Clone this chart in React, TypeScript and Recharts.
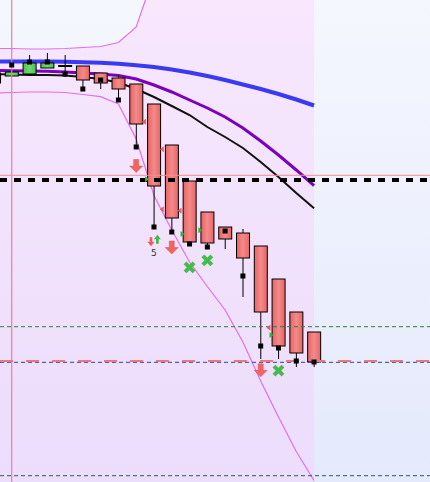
import React from "react";
import {
  ComposedChart,
  Bar,
  Line,
  Area,
  Scatter,
  XAxis,
  YAxis,
  ReferenceLine,
} from "recharts";

const idx = [-1, 0, 1, 2, 3, 4, 5, 6, 7, 8, 9, 10, 11, 12, 13, 14, 15, 16, 17];
const opens = [140.9, 140.6, 140.8, 141.4, 141.6, 141.6, 140.9, 140.4, 139.8, 137.8, 133.7, 130.1, 127.0, 125.5, 124.9, 123.6, 120.3, 117.0, 115.0];
const closes = [139.9, 141.0, 141.9, 141.9, 141.6, 140.2, 139.9, 139.3, 135.8, 129.6, 126.4, 124.0, 123.9, 124.3, 122.4, 117.0, 113.6, 112.9, 112.0];
const highs = [140.9, 141.0, 142.7, 142.9, 142.7, 141.6, 140.9, 140.7, 139.8, 137.8, 133.7, 130.1, 127.0, 125.5, 125.3, 123.6, 120.3, 117.0, 115.0];
const lows = [139.9, 140.6, 140.8, 141.4, 140.5, 139.3, 139.3, 138.2, 133.5, 125.5, 125.0, 123.8, 123.6, 123.3, 118.5, 112.3, 112.3, 111.5, 111.5];
const stops = [null, 141.7, 142.0, 142.0, 140.8, 139.3, 140.2, 138.2, 133.5, 125.5, 125.0, 123.8, 123.5, 125.1, 120.6, 113.6, 113.4, 112.1, 112.0];
const maBlue = [142.05, 142.05, 142.05, 142.05, 142.02, 141.98, 141.92, 141.82, 141.67, 141.5, 141.25, 140.95, 140.6, 140.2, 139.75, 139.3, 138.8, 138.25, 137.65];
const maPurple = [141.15, 141.13, 141.1, 141.07, 141.0, 140.9, 140.8, 140.65, 140.3, 139.7, 139.0, 138.2, 137.4, 136.5, 135.4, 134.1, 132.7, 131.2, 129.63];
const maBlack = [140.8, 140.75, 140.7, 140.7, 140.65, 140.5, 140.3, 139.95, 139.3, 138.5, 137.6, 136.7, 135.5, 134.5, 133.4, 132.0, 130.5, 128.9, 127.37];
const bbUpper = [143.35, 143.35, 143.3, 143.3, 143.35, 143.45, 143.55, 143.95, 145.5, 150.7, 155.7, 160.2, 164.2, 167.7, 171.2, 174.7, 178.2, 181.7, 185.2];
const bbLower = [138.9, 138.95, 139.0, 139.0, 138.95, 138.75, 138.53, 137.8, 134.3, 128.65, 125.2, 122.0, 119.55, 117.2, 114.0, 110.1, 106.5, 103.05, 100.15];

const bigDownArrows = [
  { i: 7, p: 131.6 },
  { i: 9, p: 123.45 },
  { i: 14, p: 111.17 },
];
const greenCrosses = [
  { i: 10, p: 121.47 },
  { i: 11, p: 122.17 },
  { i: 15, p: 111.13 },
];
const countSignals = [{ i: 8, p: 124.15, label: "5" }];
const redTicks = [
  { i: 8, p: 136.03 },
  { i: 9, p: 133.27 },
  { i: 9, p: 127.27 },
  { i: 10, p: 127.13 },
  { i: 15, p: 115.43 },
];
const greenTicks = [
  { i: 8, p: 130.27 },
  { i: 10, p: 124.8 },
  { i: 11, p: 125.17 },
  { i: 15, p: 114.7 },
];

const levelRed = 130.67;
const levelBlackDash = 130.2;
const levelGreen = 115.53;
const levelSalmon = 112.1;
const levelBlue = 111.97;
const levelBottom = 100.63;
const markerIndex = 0;

const rows = idx.map((i, k) => ({
  i,
  open: opens[k],
  close: closes[k],
  high: highs[k],
  low: lows[k],
  range: [lows[k], highs[k]],
  stop: stops[k],
  blue: maBlue[k],
  purple: maPurple[k],
  black: maBlack[k],
  upper: bbUpper[k],
  lower: bbLower[k],
}));

const Candle = (props: any) => {
  const { x, y, width, height, payload } = props;
  if (!payload) return null;
  const { open, close, high, low } = payload;
  const top0 = Math.min(y, y + height);
  const h = Math.abs(height);
  const span = high - low;
  const k = span > 0 ? h / span : 0;
  const yOf = (v: number) => top0 + (high - v) * k;
  const cx = x + width / 2;
  const bTop = yOf(Math.max(open, close));
  const bBot = yOf(Math.min(open, close));
  const up = close > open;
  const doji = Math.abs(open - close) < 0.05;
  return (
    <g>
      <line x1={cx} x2={cx} y1={yOf(high)} y2={yOf(low)} stroke="#000" strokeWidth={1} />
      {doji ? (
        <line x1={x} x2={x + width} y1={bTop} y2={bTop} stroke="#000" strokeWidth={2} />
      ) : (
        <rect
          x={x + 0.5}
          y={bTop}
          width={width - 1}
          height={Math.max(bBot - bTop, 1)}
          fill={up ? "url(#gGreen)" : "url(#gRed)"}
          stroke="#000"
          strokeWidth={1}
        />
      )}
    </g>
  );
};

const StopSquare = (props: any) => {
  const { cx, cy } = props;
  if (cx == null || cy == null || isNaN(cy)) return null;
  return <rect x={cx - 2.5} y={cy - 2.5} width={5} height={5} fill="#000" />;
};

const BigArrow = (props: any) => {
  const { cx, cy } = props;
  const pts = [
    [-2.5, -6.5],
    [2.5, -6.5],
    [2.5, 0],
    [6.5, 0],
    [0, 6.5],
    [-6.5, 0],
    [-2.5, 0],
  ]
    .map(([a, b]) => `${cx + a},${cy + b}`)
    .join(" ");
  return <polygon points={pts} fill="#f06464" stroke="#e05050" strokeWidth={0.5} />;
};

const GreenCross = (props: any) => {
  const { cx, cy } = props;
  const r = 4.5;
  return (
    <g stroke="#44bb4c" strokeWidth={4}>
      <line x1={cx - r} y1={cy - r} x2={cx + r} y2={cy + r} />
      <line x1={cx - r} y1={cy + r} x2={cx + r} y2={cy - r} />
    </g>
  );
};

const CountSignal = (props: any) => {
  const { cx, cy, payload } = props;
  const rx = cx - 3;
  const ry = cy + 1.2;
  const gx = cx + 3.4;
  const gy = cy - 1.2;
  const down = [
    [-1.3, -4.5],
    [1.3, -4.5],
    [1.3, 0],
    [3.5, 0],
    [0, 4.5],
    [-3.5, 0],
    [-1.3, 0],
  ]
    .map(([a, b]) => `${rx + a},${ry + b}`)
    .join(" ");
  const upA = [
    [-1.3, 4.5],
    [1.3, 4.5],
    [1.3, 0],
    [3.5, 0],
    [0, -4.5],
    [-3.5, 0],
    [-1.3, 0],
  ]
    .map(([a, b]) => `${gx + a},${gy + b}`)
    .join(" ");
  return (
    <g>
      <polygon points={down} fill="#f05a5a" />
      <polygon points={upA} fill="#3cba44" />
      <text
        x={cx}
        y={cy + 15}
        textAnchor="middle"
        fontSize={9}
        fontFamily="DejaVu Sans, sans-serif"
        fill="#333"
      >
        {payload && payload.label}
      </text>
    </g>
  );
};

const RedTick = (props: any) => {
  const { cx, cy } = props;
  const pts = `${cx - 12},${cy} ${cx - 8},${cy - 3} ${cx - 8},${cy + 3}`;
  return <polygon points={pts} fill="#f05a5a" />;
};

const GreenTick = (props: any) => {
  const { cx, cy } = props;
  const pts = `${cx - 9},${cy - 3} ${cx - 9},${cy + 3} ${cx - 5},${cy}`;
  return <polygon points={pts} fill="#2fb536" />;
};

export default function App() {
  return (
    <div
      style={{
        position: "absolute",
        left: 0,
        top: 0,
        width: 430,
        height: 482,
        background: "linear-gradient(180deg, #f5f7fe 0%, #e4e9fc 100%)",
        overflow: "hidden",
      }}
    >
      <ComposedChart width={430} height={482} data={rows} margin={{ top: 0, right: 0, bottom: 0, left: 0 }}>
        <defs>
          <linearGradient id="gRed" x1="0" y1="0" x2="1" y2="0">
            <stop offset="0%" stopColor="#e86464" />
            <stop offset="50%" stopColor="#f48a8a" />
            <stop offset="100%" stopColor="#e86464" />
          </linearGradient>
          <linearGradient id="gGreen" x1="0" y1="0" x2="1" y2="0">
            <stop offset="0%" stopColor="#4cc24c" />
            <stop offset="50%" stopColor="#72d872" />
            <stop offset="100%" stopColor="#4cc24c" />
          </linearGradient>
        </defs>
        <XAxis dataKey="i" type="number" domain={[-0.658, 23.52]} allowDataOverflow hide />
        <YAxis type="number" domain={[100, 148.2]} allowDataOverflow hide />
        <Area
          dataKey="upper"
          type="linear"
          stroke="#e070e8"
          strokeWidth={1.2}
          fill="#ffbefa"
          fillOpacity={0.28}
          isAnimationActive={false}
          dot={false}
          activeDot={false}
        />
        <Line dataKey="lower" type="linear" stroke="#e070e8" strokeWidth={1.2} dot={false} activeDot={false} isAnimationActive={false} />
        <Line dataKey="blue" type="linear" stroke="#3a3af2" strokeWidth={4} dot={false} activeDot={false} isAnimationActive={false} />
        <Line dataKey="purple" type="linear" stroke="#7a00bc" strokeWidth={3} dot={false} activeDot={false} isAnimationActive={false} />
        <Line dataKey="black" type="linear" stroke="#111" strokeWidth={2} dot={false} activeDot={false} isAnimationActive={false} />
        <Bar dataKey="range" barSize={14} shape={<Candle />} isAnimationActive={false} zIndex={450} />
        <ReferenceLine x={markerIndex} stroke="#f27aa0" strokeWidth={1.2} zIndex={500} />
        <ReferenceLine y={levelRed} stroke="#f09090" strokeWidth={1} zIndex={500} />
        <ReferenceLine y={levelBlackDash} stroke="#000" strokeWidth={4} strokeDasharray="7 7" zIndex={500} />
        <ReferenceLine y={levelGreen} stroke="#2e7d3e" strokeWidth={1} strokeDasharray="4 3" zIndex={500} />
        <ReferenceLine y={levelBlue} stroke="#3535c8" strokeWidth={1} strokeDasharray="4 3" zIndex={500} />
        <ReferenceLine y={levelSalmon} stroke="#e47c7c" strokeWidth={2.2} strokeDasharray="13 13" zIndex={510} />
        <ReferenceLine y={levelBottom} stroke="#335a55" strokeWidth={1} strokeDasharray="4 3" zIndex={500} />
        <Scatter dataKey="stop" shape={<StopSquare />} isAnimationActive={false} zIndex={600} />
        <Scatter data={bigDownArrows} dataKey="p" shape={<BigArrow />} isAnimationActive={false} zIndex={600} />
        <Scatter data={greenCrosses} dataKey="p" shape={<GreenCross />} isAnimationActive={false} zIndex={600} />
        <Scatter data={countSignals} dataKey="p" shape={<CountSignal />} isAnimationActive={false} zIndex={600} />
        <Scatter data={redTicks} dataKey="p" shape={<RedTick />} isAnimationActive={false} zIndex={600} />
        <Scatter data={greenTicks} dataKey="p" shape={<GreenTick />} isAnimationActive={false} zIndex={600} />
      </ComposedChart>
    </div>
  );
}
